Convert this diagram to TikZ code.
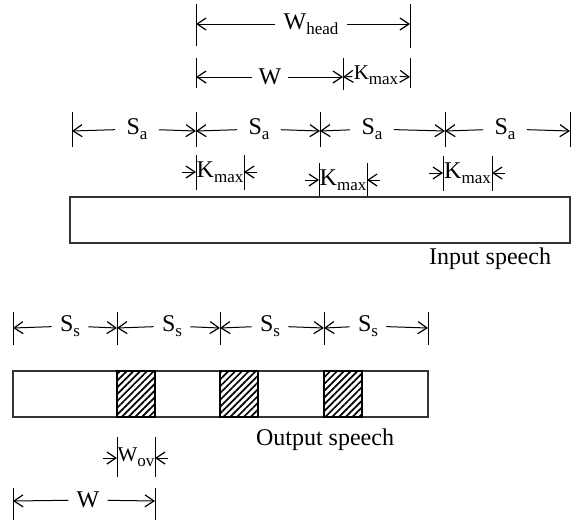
\documentclass[tikz,border=0pt]{standalone}
\usepackage{fontspec}
\setmainfont{Liberation Serif}
\usetikzlibrary{arrows.meta, patterns.meta, positioning}
\newcommand\lowsub[1]{\raisebox{-0.5ex}{\fontsize{8.5}{10}\selectfont #1}}
\tikzset{
	dimline/.style={
		line width=0.5pt,
		-{Straight Barb[length=4.5pt,width=6pt,line width=0.6pt]}
	},
	tickline/.style={line width=0.5pt},
	dimlabel/.style={
		inner xsep=3pt, inner ysep=1.5pt,
		font=\fontsize{12}{14}\selectfont
	},
	frame/.style={draw=black!80, line width=0.6pt},
	hatched/.style={
		draw, line width=0.6pt,
		pattern={Lines[angle=45,distance=2.4pt,line width=0.85pt]}
	}
}

\begin{document}
\begin{tikzpicture}[x=0.5pt, y=-0.5pt]
	\useasboundingbox (0,0) rectangle (581,525);
	
	% window head
	\draw[tickline] (196,4) -- (196,46);
	\draw[tickline] (410,4) -- (410,48);
	\coordinate (wh-l) at (196,24);
	\coordinate (wh-r) at (410,24);
	\node[dimlabel, inner xsep=4pt] (whead) at (311,24) {W\lowsub{head}};
	\draw[dimline] (whead) -- (wh-l);
	\draw[dimline] (whead) -- (wh-r);
	
	% window and overlap search
	\draw[tickline] (196,58) -- (196,88);
	\draw[tickline] (343,58) -- (343,90);
	\draw[tickline] (410,58) -- (410,88);
	\coordinate (w-l) at (196,77);
	\coordinate (w-m) at (343,77);
	\coordinate (w-r) at (410,77);
	\node[dimlabel] (win) at (270,77) {W};
	\node[dimlabel, inner sep=0.5pt] (kwin) at (376,75) {\fontsize{10.5}{12}\selectfont K\lowsub{max}};
	\draw[dimline] (win) -- (w-l);
	\draw[dimline] (win) -- (w-m);
	\draw[dimline] (kwin) -- (w-m);
	\draw[dimline] (kwin) -- (w-r);
	
	% analysis shift
	\foreach \x/\i in {72/1, 196/2, 320/3, 445/4, 570/5} {
		\draw[tickline] (\x,112) -- (\x,147);
		\coordinate (sa\i) at (\x,131);
	}
	\foreach \i/\j/\lx in {1/2/137, 2/3/259, 3/4/372, 4/5/505} {
		\node[dimlabel, inner xsep=5.5pt] (salbl\i) at (\lx,129) {S\lowsub{a}};
		\draw[dimline] (salbl\i) -- (sa\i);
		\draw[dimline] (salbl\i) -- (sa\j);
	}
	
	% search regions
	\foreach \xl/\xr/\y/\i in {196/244/172/1, 319/367/180/2, 443/492/173/3} {
		\draw[tickline] (\xl,\y-17) -- (\xl,\y+18);
		\draw[tickline] (\xr,\y-17) -- (\xr,\y+18);
		\coordinate (kl\i) at (\xl,\y);
		\coordinate (kr\i) at (\xr,\y);
		\coordinate (klin\i) at (\xl-14,\y);
		\coordinate (krin\i) at (\xr+13,\y);
		\node[dimlabel, inner sep=0pt] (klbl\i) at ({(\xl+\xr)/2},\y) {K\lowsub{max}};
		\draw[dimline] (klin\i) -- (kl\i);
		\draw[dimline] (krin\i) -- (kr\i);
	}
	
	% input signal
	\draw[frame] (70,197) rectangle (570,243);
	\node[dimlabel] (inlbl) at (490,259) {Input speech};
	
	% synthesis shift
	\foreach \x/\i in {13/1, 117/2, 220/3, 324/4, 428/5} {
		\draw[tickline] (\x,312) -- (\x,345);
		\coordinate (ss\i) at (\x,328);
	}
	\foreach \i/\j/\lx in {1/2/70, 2/3/172, 3/4/270, 4/5/368} {
		\node[dimlabel, inner xsep=4pt] (sslbl\i) at (\lx,326) {S\lowsub{s}};
		\draw[dimline] (sslbl\i) -- (ss\i);
		\draw[dimline] (sslbl\i) -- (ss\j);
	}
	
	% output signal with overlap parts
	\draw[frame] (13,371) rectangle (428,417);
	\foreach \x in {117, 220, 324} {
		\draw[hatched] (\x,371) rectangle (\x+38,417);
	}
	\node[dimlabel] (outlbl) at (325,440) {Output speech};
	
	% overlap length
	\draw[tickline] (117,437) -- (117,477);
	\draw[tickline] (155,437) -- (155,477);
	\coordinate (ov-l) at (117,458);
	\coordinate (ov-r) at (155,458);
	\coordinate (ov-lin) at (103,458);
	\coordinate (ov-rin) at (168,458);
	\node[dimlabel, inner sep=0pt] (ovlbl) at (136,457) {\fontsize{10.5}{12}\selectfont W\lowsub{ov}};
	\draw[dimline] (ov-lin) -- (ov-l);
	\draw[dimline] (ov-rin) -- (ov-r);
	
	% output window
	\draw[tickline] (13,488) -- (13,520);
	\draw[tickline] (155,488) -- (155,520);
	\coordinate (ow-l) at (13,501);
	\coordinate (ow-r) at (155,501);
	\node[dimlabel, inner xsep=4pt] (owlbl) at (88,500) {W};
	\draw[dimline] (owlbl) -- (ow-l);
	\draw[dimline] (owlbl) -- (ow-r);
\end{tikzpicture}
\end{document}
